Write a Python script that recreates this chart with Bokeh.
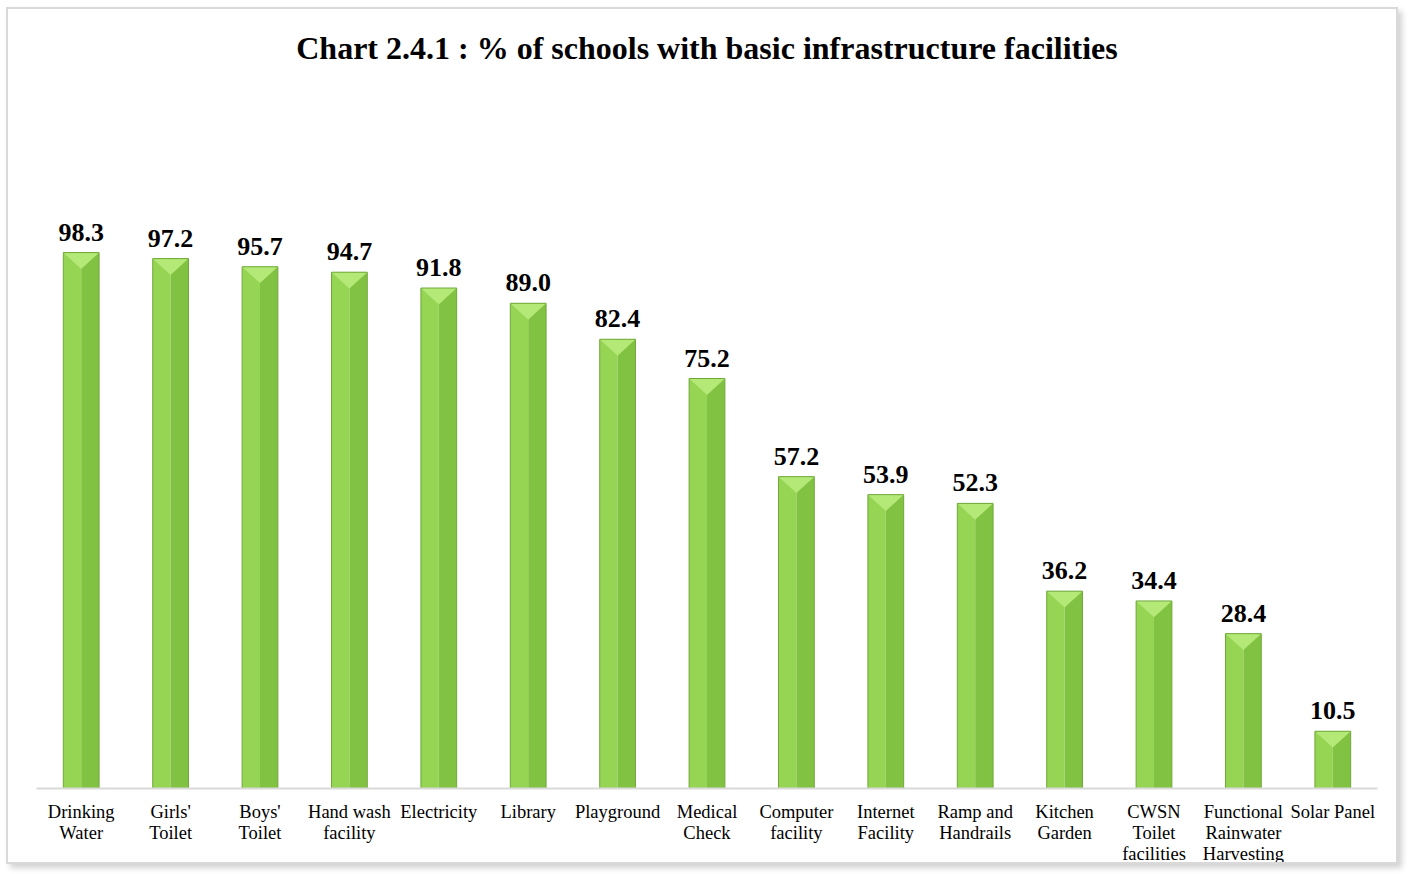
import numpy as np
from bokeh.plotting import figure
from bokeh.models import Range1d, ColumnDataSource, FixedTicker
from bokeh.core.properties import value
from bokeh.embed import file_html
from bokeh.resources import INLINE

categories = ["Drinking\nWater", "Girls'\nToilet", "Boys'\nToilet", "Hand wash\nfacility",
              "Electricity", "Library", "Playground", "Medical\nCheck", "Computer\nfacility",
              "Internet\nFacility", "Ramp and\nHandrails", "Kitchen\nGarden",
              "CWSN\nToilet\nfacilities", "Functional\nRainwater\nHarvesting", "Solar Panel"]
values = [98.3, 97.2, 95.7, 94.7, 91.8, 89.0, 82.4, 75.2, 57.2, 53.9, 52.3, 36.2, 34.4, 28.4, 10.5]
labels = [f"{v:.1f}" for v in values]

x = np.arange(len(values), dtype=float)
vals = np.array(values)
bw = 0.40
bevel = 3.0

SERIF = "Liberation Serif"

p = figure(width=1392, height=857, output_backend="svg", toolbar_location=None,
           x_range=Range1d(-0.5, len(values) - 0.5), y_range=Range1d(0, 131.7),
           min_border_left=28, min_border_right=23, min_border_top=61, min_border_bottom=60,
           title="Chart 2.4.1 : % of schools with basic infrastructure facilities")
p.styles = {"border": "2px solid #d9d9d9", "box-shadow": "4px 4px 6px rgba(0,0,0,0.18)",
            "margin-left": "6px", "margin-top": "7px"}

p.title.align = "center"
p.title.text_font = SERIF
p.title.text_font_size = "32px"
p.title.text_font_style = "bold"
p.title.text_color = "#000000"
p.title.standoff = 10

p.outline_line_color = None
p.xgrid.grid_line_color = None
p.ygrid.grid_line_color = None
p.yaxis.visible = False

src = ColumnDataSource(dict(x=x, top=vals, lab=labels,
                            xl=x - bw / 4, xr=x + bw / 4))
# left (light) half and right (darker) half
p.vbar(x="xl", top="top", width=bw / 2, bottom=0, source=src,
       fill_color="#96D454", line_color=None)
p.vbar(x="xr", top="top", width=bw / 2, bottom=0, source=src,
       fill_color="#82C242", line_color=None)
# top bevel triangle
tri_xs = [[xi - bw / 2, xi + bw / 2, xi] for xi in x]
tri_ys = [[v, v, v - bevel] for v in vals]
p.patches(tri_xs, tri_ys, fill_color="#B4E978", line_color=None)
# outline
p.vbar(x="x", top="top", width=bw, bottom=0, source=src,
       fill_color=None, line_color="#6FA838", line_width=1)

p.text(x="x", y="top", text="lab", source=src, text_align="center",
       text_baseline="bottom", y_offset=-12, text_font=value(SERIF),
       text_font_size="26px", text_font_style="bold", text_color="#000000")

p.xaxis.ticker = FixedTicker(ticks=list(x))
p.xaxis.major_label_overrides = {float(i): c for i, c in enumerate(categories)}
p.xaxis.major_label_overrides.update({int(i): c for i, c in enumerate(categories)})
p.xaxis.major_tick_line_color = None
p.xaxis.minor_tick_line_color = None
p.xaxis.axis_line_color = "#d9d9d9"
p.xaxis.axis_line_width = 2
p.xaxis.major_label_text_font = SERIF
p.xaxis.major_label_text_font_size = "18.5px"
p.xaxis.major_label_text_line_height = 1.05
p.xaxis.major_label_text_color = "#000000"
p.xaxis.major_label_standoff = 7

open("out.html", "w").write(file_html(p, INLINE))
